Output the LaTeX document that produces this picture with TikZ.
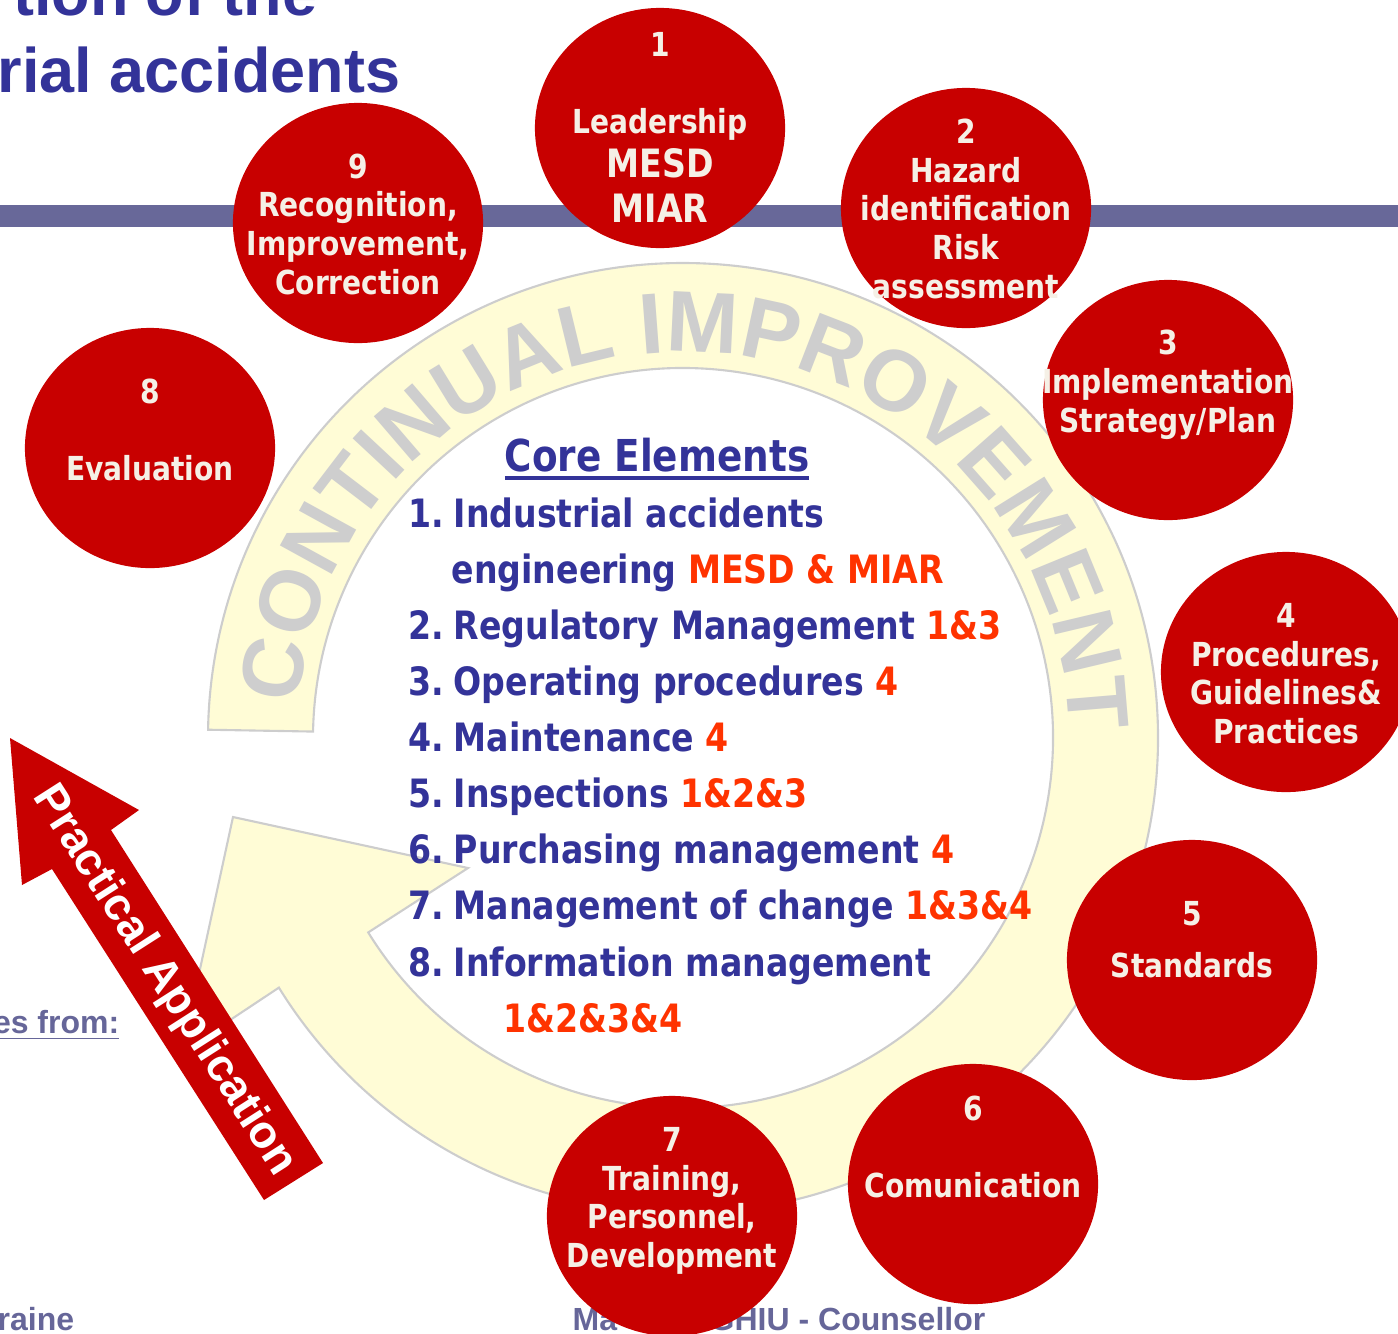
\documentclass[tikz,border=0pt]{standalone}
\usepackage{fontspec}
\usetikzlibrary{shapes.geometric,calc,decorations.text}
\newfontfamily\tahfont[FakeStretch=0.85]{DejaVu Sans}
\newfontfamily\arialfont{Liberation Sans}
\definecolor{elemred}{RGB}{200,0,0}
\definecolor{elemtext}{RGB}{245,240,230}
\definecolor{navy}{RGB}{51,51,153}
\definecolor{refnum}{RGB}{255,51,0}
\definecolor{barblue}{RGB}{104,104,153}
\definecolor{footgray}{RGB}{102,102,153}
\definecolor{bandfill}{RGB}{255,252,214}
\definecolor{bandline}{RGB}{205,205,205}
\definecolor{contgray}{RGB}{206,206,206}
\newdimen\pxu \pxu=0.01cm
\newcommand\thickul[1]{\leavevmode\vtop{\hbox{#1}\kern1.3pt\hrule height 1.2pt}}
\newcommand\elbig{\fontsize{11.1}{12.5}\selectfont}
\newcommand\refs[1]{\textcolor{refnum}{#1}}
\newcommand\itm[1]{\makebox[45\pxu][l]{#1}}
\begin{document}
\begin{tikzpicture}
[x=0.01cm,y=0.01cm,%
  elem/.style={ellipse,fill=elemred,minimum width=2.5cm,minimum height=2.4cm,inner sep=0pt},%
  elemtxt/.style={text=elemtext,font=\tahfont\bfseries\fontsize{9.4}{10.95}\selectfont,align=center,anchor=base,inner sep=0pt},%
  band/.style={fill=bandfill,draw=bandline,line width=0.6pt},%
  foot/.style={text=footgray,font=\arialfont\bfseries\fontsize{9.1}{9.1}\selectfont,inner sep=0pt},%
  title/.style={text=navy,font=\arialfont\bfseries\fontsize{17.9}{17.9}\selectfont,inner sep=0pt}]
\useasboundingbox (0,0) rectangle (1398,-1333);
\clip (0,0) rectangle (1398,-1333);
\node[title,anchor=base east] (title1) at (318,-15) {tion of the};
\node[title,anchor=base west] (title2) at (-3,-92) {rial accidents};
\fill[barblue] (0,-205) rectangle (1398,-227);
\coordinate (ctr) at (683,-738);
\filldraw[band] ($(ctr)+(179:475)$) arc[start angle=179,end angle=-148.3,radius=475]
  -- (182,-1052) -- (233,-817) -- (468,-868)
  -- ($(ctr)+(-148.3:370)$) arc[start angle=-148.3,end angle=179,radius=370] -- cycle;
\path[decorate,decoration={text along path,text align=center,
  text={|\arialfont\bfseries\fontsize{24.5}{24.5}\selectfont\color{contgray}|CONTINUAL IMPROVEMENT}}]
  ($(ctr)+(176.5:386)$) arc[start angle=176.5,end angle=-0.5,radius=386];
\node[text=navy,font=\tahfont\bfseries\fontsize{12.5}{12.5}\selectfont,anchor=base,inner sep=0pt]
  (core) at (657,-471) {\thickul{Core Elements}};
\node[text=navy,font=\tahfont\bfseries\fontsize{11.1}{15.93}\selectfont,align=left,anchor=base west,inner sep=0pt]
  (list) at (408,-1032) {\itm{1.}Industrial accidents\\
  \hspace*{43\pxu}engineering \refs{MESD \& MIAR}\\
  \itm{2.}Regulatory Management \refs{1\&3}\\
  \itm{3.}Operating procedures \refs{4}\\
  \itm{4.}Maintenance \refs{4}\\
  \itm{5.}Inspections \refs{1\&2\&3}\\
  \itm{6.}Purchasing management \refs{4}\\
  \itm{7.}Management of change \refs{1\&3\&4}\\
  \itm{8.}Information management\\
  \hspace*{95\pxu}\refs{1\&2\&3\&4}};
\fill[elemred] (10,-738) -- (139,-810) -- (111,-830) -- (323,-1163) -- (264,-1200) -- (52,-869) -- (22,-885) -- cycle;
\node[rotate=-57.4,text=white,font=\arialfont\bfseries\fontsize{13}{13}\selectfont,inner sep=0pt]
  (practical) at (164,-981) {Practical Application};
\node[foot,anchor=base east] (from) at (120,-1033) {\underline{es from:}};
\node[foot,anchor=base west] (country) at (-3,-1330) {raine};
\node[foot,anchor=base west] (author) at (572,-1330) {Ma};
\node[foot,anchor=base east] (role) at (986,-1330) {GHIU - Counsellor};
\node[elem] (c1) at (660,-128) {};
\node[elem] (c2) at (966,-208) {};
\node[elem] (c3) at (1168,-400) {};
\node[elem] (c4) at (1286,-672) {};
\node[elem] (c5) at (1192,-960) {};
\node[elem] (c6) at (973,-1184) {};
\node[elem] (c7) at (672,-1216) {};
\node[elem] (c8) at (150,-448) {};
\node[elem] (c9) at (358,-223) {};
\node[elemtxt] (t1) at (660,-222) {1\\[10.95pt]Leadership\\[1.4pt]{\elbig MESD}\\[1.8pt]{\elbig MIAR}};
\node[elemtxt] (t2) at (966,-298) {2\\Hazard\\identification\\Risk\\assessment};
\node[elemtxt] (t3) at (1168,-432) {3\\Implementation\\Strategy/Plan};
\node[elemtxt] (t4) at (1286,-743) {4\\Procedures,\\Guidelines\&\\Practices};
\node[elemtxt] (t5) at (1192,-977) {5\\[3.56pt]Standards};
\node[elemtxt] (t6) at (973,-1197) {6\\[10.95pt]Comunication};
\node[elemtxt] (t7) at (672,-1267) {7\\Training,\\Personnel,\\Development};
\node[elemtxt] (t8) at (150,-480) {8\\[10.95pt]Evaluation};
\node[elemtxt] (t9) at (358,-294) {9\\Recognition,\\Improvement,\\Correction};
\end{tikzpicture}
\end{document}
